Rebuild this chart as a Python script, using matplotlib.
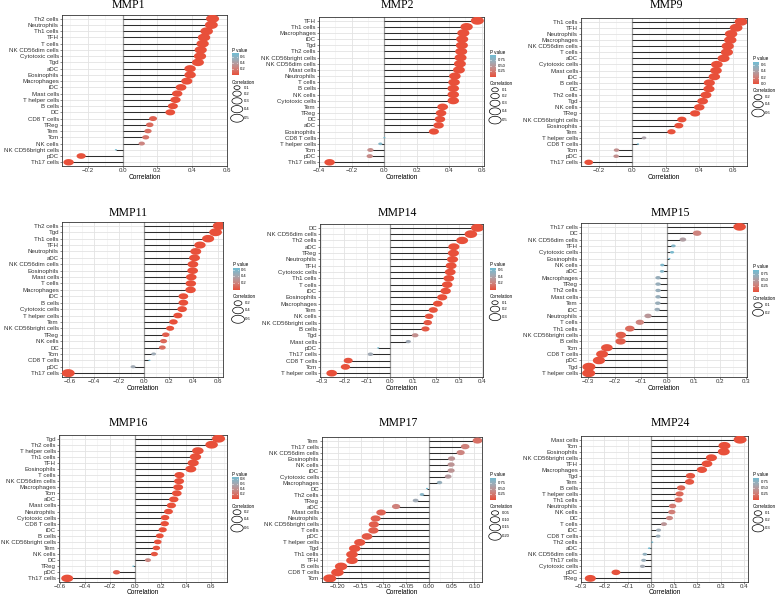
import numpy as np
import matplotlib
matplotlib.use('Agg')
import matplotlib.pyplot as plt
from matplotlib.colors import LinearSegmentedColormap, Normalize
from matplotlib.path import Path

W, H = 778, 595

# ---------------- data ----------------
mmp1_cells = ["Th2 cells", "Neutrophils", "Th1 cells", "TFH", "T cells", "NK CD56dim cells",
              "Cytotoxic cells", "Tgd", "aDC", "Eosinophils", "Macrophages", "iDC", "Mast cells",
              "T helper cells", "B cells", "DC", "CD8 T cells", "TReg", "Tem", "Tcm", "NK cells",
              "NK CD56bright cells", "pDC", "Th17 cells"]
mmp1_r = [0.517, 0.51, 0.483, 0.468, 0.46, 0.449, 0.445, 0.433, 0.388, 0.388, 0.369, 0.336, 0.314,
          0.304, 0.289, 0.274, 0.175, 0.156, 0.146, 0.133, 0.11, -0.038, -0.238, -0.31]
mmp1_p = [0, 0, 0, 0, 0, 0, 0, 0, 0, 0, 0, 0, 0, 0, 0, 0, 0.08, 0.12, 0.14, 0.17, 0.25, 0.72, 0.01, 0]

mmp2_cells = ["TFH", "Th1 cells", "Macrophages", "iDC", "Tgd", "Th2 cells", "NK CD56bright cells",
              "NK CD56dim cells", "Mast cells", "Neutrophils", "T cells", "B cells", "NK cells",
              "Cytotoxic cells", "Tem", "TReg", "DC", "aDC", "Eosinophils", "CD8 T cells",
              "T helper cells", "Tcm", "pDC", "Th17 cells"]
mmp2_r = [0.573, 0.507, 0.487, 0.48, 0.478, 0.474, 0.47, 0.466, 0.46, 0.435, 0.43, 0.425, 0.425,
          0.425, 0.36, 0.35, 0.343, 0.335, 0.306, 0.002, -0.023, -0.084, -0.088, -0.335]
mmp2_p = [0, 0, 0, 0, 0, 0, 0, 0, 0, 0, 0, 0, 0, 0, 0, 0, 0, 0, 0, 0.98, 0.85, 0.4, 0.38, 0]

mmp9_cells = ["Th1 cells", "TFH", "Neutrophils", "Macrophages", "NK CD56dim cells", "T cells", "aDC",
              "Cytotoxic cells", "Mast cells", "iDC", "B cells", "DC", "Th2 cells", "Tgd", "NK cells",
              "TReg", "NK CD56bright cells", "Eosinophils", "Tem", "T helper cells", "CD8 T cells",
              "Tcm", "pDC", "Th17 cells"]
mmp9_r = [0.65, 0.62, 0.59, 0.585, 0.57, 0.565, 0.545, 0.505, 0.50, 0.49, 0.46, 0.458, 0.44, 0.42,
          0.40, 0.375, 0.296, 0.278, 0.234, 0.07, 0.034, -0.094, -0.096, -0.26]
mmp9_p = [0, 0, 0, 0, 0, 0, 0, 0, 0, 0, 0, 0, 0, 0, 0, 0, 0, 0, 0.01, 0.42, 0.7, 0.3, 0.3, 0]

mmp11_cells = ["Th2 cells", "Tgd", "Th1 cells", "TFH", "Neutrophils", "aDC", "NK CD56dim cells",
               "Eosinophils", "Mast cells", "T cells", "Macrophages", "iDC", "B cells", "Cytotoxic cells",
               "T helper cells", "Tem", "NK CD56bright cells", "TReg", "NK cells", "DC", "Tcm",
               "CD8 T cells", "pDC", "Th17 cells"]
mmp11_r = [0.61, 0.58, 0.52, 0.454, 0.42, 0.41, 0.397, 0.395, 0.384, 0.38, 0.378, 0.32, 0.32, 0.31,
           0.276, 0.24, 0.213, 0.178, 0.16, 0.15, 0.08, 0.046, -0.086, -0.61]
mmp11_p = [0, 0, 0, 0, 0, 0, 0, 0, 0, 0, 0, 0, 0, 0, 0, 0, 0.01, 0.06, 0.1, 0.12, 0.45, 0.65, 0.44, 0]

mmp14_cells = ["DC", "NK CD56dim cells", "Th2 cells", "aDC", "TReg", "Neutrophils", "TFH",
               "Cytotoxic cells", "Th1 cells", "T cells", "iDC", "Eosinophils", "Macrophages", "Tem",
               "NK cells", "NK CD56bright cells", "B cells", "Tgd", "Mast cells", "pDC", "Th17 cells",
               "CD8 T cells", "Tcm", "T helper cells"]
mmp14_r = [0.381, 0.352, 0.314, 0.278, 0.276, 0.272, 0.266, 0.262, 0.256, 0.249, 0.242, 0.227,
           0.208, 0.188, 0.17, 0.164, 0.154, 0.109, 0.079, -0.052, -0.086, -0.183, -0.195, -0.255]
mmp14_p = [0, 0, 0, 0, 0, 0, 0, 0, 0, 0, 0, 0, 0, 0.01, 0.02, 0.03, 0.04, 0.28, 0.45, 0.66, 0.45,
           0.02, 0.01, 0]

mmp15_cells = ["Th17 cells", "DC", "NK CD56dim cells", "TFH", "Cytotoxic cells", "Eosinophils",
               "NK cells", "aDC", "Macrophages", "TReg", "Th2 cells", "Mast cells", "Tem", "iDC",
               "Neutrophils", "T cells", "Th1 cells", "NK CD56bright cells", "B cells", "Tcm",
               "CD8 T cells", "pDC", "Tgd", "T helper cells"]
mmp15_r = [0.274, 0.113, 0.059, 0.023, 0.018, 0.008, -0.019, -0.02, -0.035, -0.035, -0.035, -0.035,
           -0.036, -0.038, -0.073, -0.104, -0.142, -0.176, -0.177, -0.229, -0.247, -0.259, -0.297, -0.298]
mmp15_p = [0, 0.3, 0.52, 0.8, 0.85, 0.92, 0.82, 0.8, 0.68, 0.68, 0.68, 0.68, 0.67, 0.66, 0.45, 0.3,
           0.15, 0.08, 0.08, 0.02, 0.01, 0.01, 0, 0]

mmp16_cells = ["Tgd", "Th2 cells", "T helper cells", "Th1 cells", "TFH", "Eosinophils", "T cells",
               "NK CD56dim cells", "Macrophages", "Tcm", "aDC", "Mast cells", "Neutrophils",
               "Cytotoxic cells", "CD8 T cells", "iDC", "B cells", "NK CD56bright cells", "Tem",
               "NK cells", "DC", "TReg", "pDC", "Th17 cells"]
mmp16_r = [0.66, 0.605, 0.496, 0.477, 0.459, 0.44, 0.35, 0.347, 0.34, 0.329, 0.305, 0.286, 0.263,
           0.236, 0.233, 0.217, 0.194, 0.178, 0.167, 0.151, 0.10, -0.016, -0.149, -0.54]
mmp16_p = [0, 0, 0, 0, 0, 0, 0, 0, 0, 0, 0, 0, 0, 0, 0, 0, 0, 0.01, 0.02, 0.04, 0.3, 0.86, 0.08, 0]

mmp17_cells = ["Tem", "Th17 cells", "NK CD56dim cells", "Eosinophils", "NK cells", "iDC",
               "Cytotoxic cells", "Macrophages", "DC", "Th2 cells", "TReg", "aDC", "Mast cells",
               "Neutrophils", "NK CD56bright cells", "T cells", "pDC", "T helper cells", "Tgd",
               "Th1 cells", "TFH", "B cells", "CD8 T cells", "Tcm"]
mmp17_r = [0.107, 0.08, 0.07, 0.05, 0.049, 0.049, 0.0425, 0.0235, -0.004, -0.015, -0.029, -0.072,
           -0.105, -0.117, -0.121, -0.122, -0.136, -0.152, -0.163, -0.169, -0.169, -0.193, -0.201, -0.218]
mmp17_p = [0.2, 0.3, 0.32, 0.45, 0.45, 0.45, 0.5, 0.72, 0.96, 0.82, 0.66, 0.3, 0.12, 0.1, 0.09,
           0.09, 0.06, 0.03, 0.02, 0.02, 0.02, 0.01, 0.005, 0.002]

mmp24_cells = ["Mast cells", "Tcm", "Eosinophils", "NK CD56bright cells", "TFH", "Macrophages", "Tgd",
               "Tem", "B cells", "T helper cells", "Th1 cells", "Neutrophils", "NK cells", "DC",
               "T cells", "iDC", "CD8 T cells", "Th2 cells", "aDC", "NK CD56dim cells", "Th17 cells",
               "Cytotoxic cells", "pDC", "TReg"]
mmp24_r = [0.383, 0.316, 0.313, 0.26, 0.241, 0.219, 0.17, 0.166, 0.13, 0.123, 0.119, 0.093, 0.09,
           0.08, 0.056, 0.033, 0.031, 0.006, -0.007, -0.026, -0.031, -0.036, -0.15, -0.26]
mmp24_p = [0, 0, 0, 0, 0, 0.01, 0.03, 0.04, 0.12, 0.14, 0.15, 0.25, 0.27, 0.32, 0.45, 0.65, 0.67,
           0.93, 0.9, 0.72, 0.68, 0.62, 0.02, 0]

# ---------------- layout / style ----------------
panels = [
    dict(title="MMP1", cells=mmp1_cells, r=mmp1_r, p=mmp1_p, box=(62, 227, 15, 166),
         xlim=(-0.348, 0.593), xticks=[-0.2, 0.0, 0.2, 0.4, 0.6], tx=128, ty=5, xly=177,
         pticks=[0.2, 0.4, 0.6], sbreaks=[0.1, 0.2, 0.3, 0.4, 0.5], leg=(232, 50)),
    dict(title="MMP2", cells=mmp2_cells, r=mmp2_r, p=mmp2_p, box=(319, 484, 17, 166),
         xlim=(-0.40, 0.614), xticks=[-0.4, -0.2, 0.0, 0.2, 0.4, 0.6], tx=397, ty=5, xly=177,
         pticks=[0.25, 0.50, 0.75], sbreaks=[0.1, 0.2, 0.3, 0.4, 0.5], leg=(490, 52)),
    dict(title="MMP9", cells=mmp9_cells, r=mmp9_r, p=mmp9_p, box=(581, 747, 18, 166),
         xlim=(-0.306, 0.685), xticks=[-0.2, 0.0, 0.2, 0.4, 0.6], tx=666, ty=5, xly=177,
         pticks=[0.0, 0.2, 0.4, 0.6], sbreaks=[0.2, 0.4, 0.6], leg=(753, 59)),
    dict(title="MMP11", cells=mmp11_cells, r=mmp11_r, p=mmp11_p, box=(62, 223, 222, 377),
         xlim=(-0.66, 0.64), xticks=[-0.6, -0.4, -0.2, 0.0, 0.2, 0.4, 0.6], tx=128, ty=213, xly=389,
         pticks=[0.2, 0.4, 0.6], sbreaks=[0.2, 0.4, 0.6], leg=(233, 265)),
    dict(title="MMP14", cells=mmp14_cells, r=mmp14_r, p=mmp14_p, box=(320, 483, 224, 377),
         xlim=(-0.306, 0.405), xticks=[-0.3, -0.2, -0.1, 0.0, 0.1, 0.2, 0.3, 0.4], tx=397, ty=213, xly=389,
         pticks=[0.2, 0.4, 0.6], sbreaks=[0.1, 0.2, 0.3], leg=(490, 265)),
    dict(title="MMP15", cells=mmp15_cells, r=mmp15_r, p=mmp15_p, box=(581, 747, 223, 377),
         xlim=(-0.327, 0.302), xticks=[-0.3, -0.2, -0.1, 0.0, 0.1, 0.2, 0.3], tx=670, ty=213, xly=389,
         pticks=[0.25, 0.50, 0.75], sbreaks=[0.1, 0.2], leg=(753, 267)),
    dict(title="MMP16", cells=mmp16_cells, r=mmp16_r, p=mmp16_p, box=(59, 227, 435, 582),
         xlim=(-0.605, 0.727), xticks=[-0.6, -0.4, -0.2, 0.0, 0.2, 0.4, 0.6], tx=128, ty=423, xly=593,
         pticks=[0.2, 0.4, 0.6, 0.8], sbreaks=[0.2, 0.4, 0.6], leg=(232, 474)),
    dict(title="MMP17", cells=mmp17_cells, r=mmp17_r, p=mmp17_p, box=(322, 482, 437, 582),
         xlim=(-0.235, 0.117), xticks=[-0.20, -0.15, -0.10, -0.05, 0.00, 0.05, 0.10], tx=398, ty=423,
         xly=593, pticks=[0.25, 0.50, 0.75], sbreaks=[0.05, 0.10, 0.15, 0.20], leg=(490, 475),
         fmt="{:.2f}"),
    dict(title="MMP24", cells=mmp24_cells, r=mmp24_r, p=mmp24_p, box=(581, 748, 436, 582),
         xlim=(-0.297, 0.417), xticks=[-0.3, -0.2, -0.1, 0.0, 0.1, 0.2, 0.3, 0.4], tx=670, ty=423,
         xly=593, pticks=[0.25, 0.50, 0.75], sbreaks=[0.1, 0.2, 0.3], leg=(753, 475)),
]

cmap = LinearSegmentedColormap.from_list("pv", ["#E8503A", "#CD8580", "#A3A9B3", "#6FBDD4"])
SANS = ["Liberation Sans", "DejaVu Sans"]
TXT = "#333333"
WMAX = 13.0   # px width of the largest dot
ASPECT = 0.62

theta = np.linspace(0, 2 * np.pi, 60)
ell = Path(np.column_stack([np.cos(theta), ASPECT * np.sin(theta)]), closed=True)

fig = plt.figure(figsize=(W / 100, H / 100), dpi=100)
ov = fig.add_axes([0, 0, 1, 1], zorder=10)
ov.set_xlim(0, W)
ov.set_ylim(H, 0)
ov.axis("off")
ov.patch.set_alpha(0)


def fx(x):
    return x / W


def fy(y):
    return 1 - y / H


def width_px(v, lo, hi):
    t = np.clip((np.asarray(v) - lo) / (hi - lo), 0, 1)
    return WMAX * (1 + 5 * np.sqrt(t)) / 6


for pn in panels:
    l, rgt, t, b = pn["box"]
    ax = fig.add_axes([fx(l), fy(b), (rgt - l) / W, (b - t) / H])
    cells = pn["cells"]
    r = np.array(pn["r"])
    p = np.array(pn["p"])
    n = len(cells)
    y = np.arange(n)[::-1]
    pmin, pmax = p.min(), p.max()
    norm = Normalize(pmin, pmax)
    ar = np.abs(r)
    lo, hi = ar.min(), ar.max()

    ax.set_xlim(*pn["xlim"])
    ax.set_ylim(-0.6, n - 1 + 0.6)
    xt = pn["xticks"]
    step = xt[1] - xt[0]
    minor = np.arange(xt[0] - step / 2, xt[-1] + step, step)
    for m in minor:
        ax.axvline(m, color="#F0F0F0", lw=0.4, zorder=0)
    for m in xt:
        ax.axvline(m, color="#E3E3E3", lw=0.6, zorder=0)
    for yy in y:
        ax.axhline(yy, color="#E3E3E3", lw=0.6, zorder=0)
    ax.axvline(0, color="#9A9A9A", lw=0.9, zorder=1)
    ax.hlines(y, 0, r, color="#2E2E2E", lw=0.75, zorder=2)
    wpt = width_px(ar, lo, hi) * 0.72
    ax.scatter(r, y, s=wpt ** 2, c=p, cmap=cmap, norm=norm, marker=ell, linewidths=0, zorder=3)

    ax.set_yticks(y)
    ax.set_yticklabels(cells, fontsize=4.4, color=TXT, family=SANS)
    ax.set_xticks(xt)
    fmt = pn.get("fmt", "{:.1f}")
    ax.set_xticklabels([fmt.format(v).replace("-", "\u2212") for v in xt], fontsize=4.4, color=TXT,
                       family=SANS)
    ax.tick_params(axis="x", length=1.2, width=0.4, pad=0.4, colors="#333333")
    ax.tick_params(axis="y", length=1.2, width=0.4, pad=1.0, colors="#333333")
    for s in ax.spines.values():
        s.set_linewidth(0.6)
        s.set_color("#333333")
    ax.set_facecolor("white")

    fig.text(fx(pn["tx"]), fy(pn["ty"]), pn["title"], ha="center", va="center", fontsize=8.5,
             family=["Liberation Serif", "DejaVu Serif"])
    fig.text(fx((l + rgt) / 2), fy(pn["xly"]), "Correlation", ha="center", va="center", fontsize=4.8,
             family=SANS, color="black")

    # ---- legend ----
    lx, ly = pn["leg"]
    fig.text(fx(lx), fy(ly), "P value", ha="left", va="center", fontsize=3.3, family=SANS)
    cb_t, cb_b = ly + 3, ly + 25
    cax = fig.add_axes([fx(lx), fy(cb_b), 6 / W, (cb_b - cb_t) / H])
    grad = np.linspace(pmin, pmax, 200)[::-1].reshape(-1, 1)
    cax.imshow(grad, aspect="auto", cmap=cmap, norm=norm, extent=(0, 1, pmin, pmax), origin="upper")
    cax.set_ylim(pmin, pmax)
    cax.set_xticks([])
    cax.set_yticks([])
    for s in cax.spines.values():
        s.set_visible(False)
    quarter = abs(pn["pticks"][1] - pn["pticks"][0] - 0.25) < 1e-9
    for tk in pn["pticks"]:
        if pmin <= tk <= pmax:
            cax.axhline(tk, xmin=0, xmax=0.2, color="white", lw=0.4)
            cax.axhline(tk, xmin=0.8, xmax=1, color="white", lw=0.4)
            yy = cb_b - (tk - pmin) / (pmax - pmin) * (cb_b - cb_t)
            lab = "{:.2f}".format(tk) if quarter else "{:.1f}".format(tk)
            fig.text(fx(lx + 8), fy(yy), lab, ha="left", va="center", fontsize=3.0, family=SANS)

    cy = cb_b + 7
    fig.text(fx(lx), fy(cy), "Correlation", ha="left", va="center", fontsize=3.3, family=SANS)
    cy += 3
    for sb in pn["sbreaks"]:
        wpx = float(width_px(sb, lo, hi))
        hpx = wpx * ASPECT
        kh = max(5.0, hpx + 1.5)
        yc = cy + kh / 2
        ov.scatter([lx + 5], [yc], s=(wpx * 0.72) ** 2, marker=ell, facecolors="none",
                   edgecolors="black", linewidths=0.5)
        lab = "{:.2f}".format(sb) if pn["title"] == "MMP17" else "{:g}".format(sb)
        fig.text(fx(lx + 12), fy(yc), lab, ha="left", va="center", fontsize=3.0, family=SANS)
        cy += kh

fig.savefig("out.png", dpi=100)
